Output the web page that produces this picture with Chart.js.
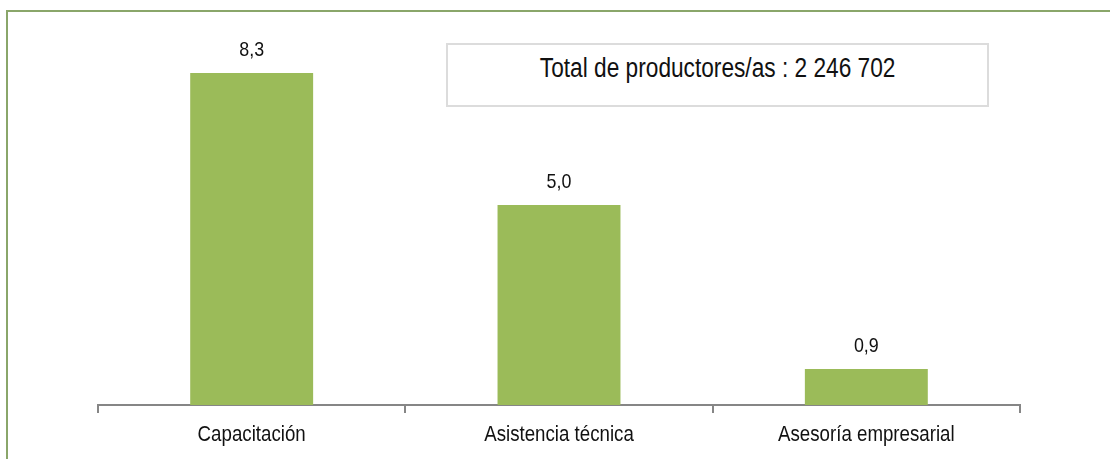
<!DOCTYPE html>
<html>
<head>
<meta charset="utf-8">
<script src="https://cdn.jsdelivr.net/npm/chart.js@4"></script>
<style>
  html, body { margin: 0; padding: 0; background: #fff; overflow: hidden; }
  #wrap { position: relative; width: 1110px; height: 459px; overflow: hidden; }
  #totalBox {
    position: absolute; left: 446px; top: 43px; width: 539px; height: 46px;
    border: 2px solid #dcdcdc; background: #fff;
    display: flex; align-items: center; justify-content: center;
    padding-bottom: 14px;
    font-family: 'Liberation Sans', Arial, sans-serif;
    font-size: 27px; color: #111;
  }
  #totalBox span { display: inline-block; transform: scaleX(0.84); white-space: nowrap; }
  canvas { position: absolute; left: 0; top: 0; }
</style>
</head>
<body>
<div id="wrap">
  <canvas id="chart" width="1110" height="459"></canvas>
  <div id="totalBox"><span id="totalText"></span></div>
</div>
<script>
const categories = ['Capacitación', 'Asistencia técnica', 'Asesoría empresarial'];
const values = [8.3, 5.0, 0.9];
const totalLabel = 'Total de productores/as : 2 246 702';

document.getElementById('totalText').textContent = totalLabel;

const FONT = "'Liberation Sans', Arial, sans-serif";
const NARROW = 0.85; // the original uses a condensed face

// text squeezed horizontally around x
function narrowText(ctx, txt, x, y) {
    ctx.save();
    ctx.translate(x, y);
    ctx.scale(NARROW, 1);
    ctx.fillText(txt, 0, 0);
    ctx.restore();
}

// green frame of the page, top and left sides only
const frame = {
    id: 'frame',
    beforeDraw(chart) {
        const ctx = chart.ctx;
        ctx.save();
        ctx.strokeStyle = '#8aa66a';
        ctx.lineWidth = 2;
        ctx.beginPath();
        ctx.moveTo(chart.width + 5, 11);
        ctx.lineTo(7, 11);
        ctx.lineTo(7, chart.height + 5);
        ctx.stroke();
        ctx.restore();
    }
};

// values over the bars and category names under the axis
const textLayer = {
    id: 'textLayer',
    afterDraw(chart) {
        const ctx = chart.ctx;
        const meta = chart.getDatasetMeta(0);
        const xs = chart.scales.x;
        ctx.save();
        ctx.fillStyle = '#111';
        ctx.textAlign = 'center';
        ctx.textBaseline = 'alphabetic';

        ctx.font = '21px ' + FONT;
        meta.data.forEach((bar, i) => {
            const txt = values[i].toFixed(1).replace('.', ',');
            narrowText(ctx, txt, bar.x, bar.y - 17);
        });

        ctx.font = '22px ' + FONT;
        categories.forEach((c, i) => {
            narrowText(ctx, c, xs.getPixelForValue(i), xs.bottom - 18);
        });
        ctx.restore();
    }
};

new Chart(document.getElementById('chart'), {
    type: 'bar',
    data: {
        labels: categories,
        datasets: [{
            data: values,
            backgroundColor: '#9bbb59',
            borderWidth: 0,
            barPercentage: 0.4,
            categoryPercentage: 1
        }]
    },
    options: {
        responsive: false,
        animation: false,
        layout: { padding: { left: 98, right: 90, top: 45, bottom: 0 } },
        plugins: {
            legend: { display: false },
            tooltip: { enabled: false }
        },
        scales: {
            y: {
                display: false,
                min: 0,
                max: 9
            },
            x: {
                afterFit(scale) { scale.height = 54; },
                border: { display: true, color: '#868686', width: 2 },
                grid: {
                    display: true,
                    drawOnChartArea: false,
                    drawTicks: true,
                    tickLength: 8,
                    color: '#868686',
                    lineWidth: 2
                },
                ticks: { display: false }
            }
        }
    },
    plugins: [frame, textLayer]
});
</script>
</body>
</html>
